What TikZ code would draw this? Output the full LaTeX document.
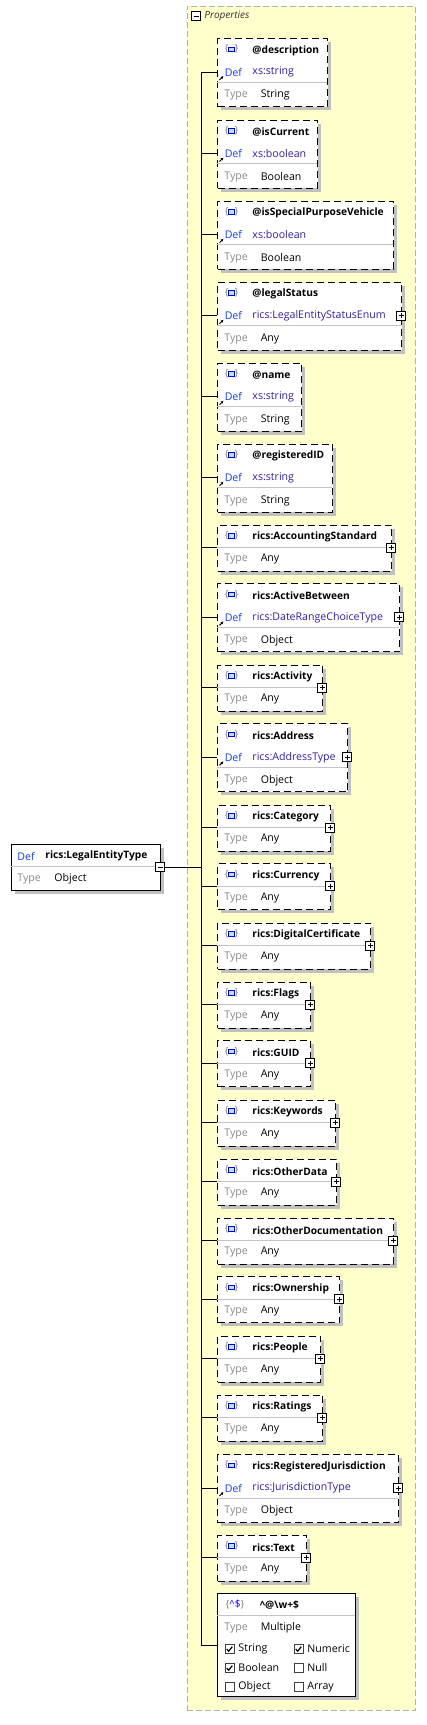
\documentclass[tikz,border=0pt]{standalone}
\usepackage{fontspec}
\setmainfont{Open Sans}
\usetikzlibrary{arrows.meta}

\definecolor{propfill}{RGB}{255,255,204}
\definecolor{propline}{RGB}{176,176,176}
\definecolor{boxshade}{RGB}{192,192,192}
\definecolor{deflabel}{RGB}{20,64,224}
\definecolor{deftype}{RGB}{48,32,160}
\definecolor{typelabel}{RGB}{138,138,138}
\definecolor{rulegray}{RGB}{196,196,196}

\begin{document}
\begin{tikzpicture}[x=1pt,y=-1pt,line width=0.9pt,
  prop box/.style={draw,line width=1.1pt,dash pattern=on 7pt off 4pt,fill=white,anchor=north west,inner sep=0pt},
  plain box/.style={draw,line width=1pt,fill=white,anchor=north west,inner sep=0pt},
  box shade/.style={fill=boxshade},
  name text/.style={anchor=west,inner sep=0pt,font=\bfseries\fontsize{10.2pt}{12pt}\selectfont},
  val text/.style={anchor=west,inner sep=0pt,font=\fontsize{10.6pt}{12pt}\selectfont},
  def label/.style={val text,text=deflabel},
  def value/.style={val text,text=deftype},
  type label/.style={val text,text=typelabel},
  minus box/.style={draw,fill=white,line width=0.8pt,minimum size=9pt,inner sep=0pt,
    path picture={\draw ([xshift=2pt]path picture bounding box.west) -- ([xshift=-2pt]path picture bounding box.east);}},
  plus box/.style={minus box,
    path picture={\draw ([xshift=2pt]path picture bounding box.west) -- ([xshift=-2pt]path picture bounding box.east);
                  \draw ([yshift=-2pt]path picture bounding box.north) -- ([yshift=2pt]path picture bounding box.south);}},
  tick box/.style={draw=black!75,fill=white,line width=0.8pt,minimum size=9pt,inner sep=0pt}]

  \useasboundingbox[fill=white] (0,0) rectangle (426,1725);

  \node[draw=propline,dash pattern=on 6pt off 3pt,fill=propfill,anchor=north west,inner sep=0pt,
    minimum width=228.5pt,minimum height=1704.5pt] (props) at (186.5,5.5) {};
  \node[minus box] (propsminus) at (196,16) {};
  \node[anchor=west,inner sep=0pt,text=black!80,font=\itshape\fontsize{10pt}{12pt}\selectfont] (propstitle) at (204,16) {Properties};

  \fill[box shade] (14.7,848.3) rectangle (163.7,894);
  \node[plain box,minimum width=149pt,minimum height=45.7pt] (root) at (10.7,844.3) {};
  \draw[rulegray] (10.7,866.7) -- (159.7,866.7);
  \node[def label] (rootdef) at (17,856) {Def};
  \node[name text] (rootname) at (45,856) {rics:LegalEntityType};
  \node[type label] (roottype) at (17,879) {Type};
  \node[val text] (rootval) at (54,879) {Object};
  \node[minus box] (rootminus) at (160,867) {};

  \foreach \idx/\yy/\bw/\rows/\lbl/\dt/\ty/\haskids in {
    1/38/110/3/@description/xs:string/String/0,
    2/119.5/100/3/@isCurrent/xs:boolean/Boolean/0,
    3/200.7/176/3/@isSpecialPurposeVehicle/xs:boolean/Boolean/0,
    4/281.7/184/3/@legalStatus/rics:LegalEntityStatusEnum/Any/1,
    5/362.7/84/3/@name/xs:string/String/0,
    6/443.7/115/3/@registeredID/xs:string/String/0,
    7/524.7/174/2/rics:AccountingStandard/-/Any/1,
    8/583.3/182/3/rics:ActiveBetween/rics:DateRangeChoiceType/Object/1,
    9/664.7/105/2/rics:Activity/-/Any/1,
    10/723.3/130/3/rics:Address/rics:AddressType/Object/1,
    11/804.7/113/2/rics:Category/-/Any/1,
    12/863.3/113/2/rics:Currency/-/Any/1,
    13/922.7/153/2/rics:DigitalCertificate/-/Any/1,
    14/981.7/93/2/rics:Flags/-/Any/1,
    15/1040.3/93/2/rics:GUID/-/Any/1,
    16/1099.7/118/2/rics:Keywords/-/Any/1,
    17/1158.7/119/2/rics:OtherData/-/Any/1,
    18/1217.7/176/2/rics:OtherDocumentation/-/Any/1,
    19/1276.3/122/2/rics:Ownership/-/Any/1,
    20/1335.7/103/2/rics:People/-/Any/1,
    21/1394.7/105/2/rics:Ratings/-/Any/1,
    22/1454/181/3/rics:RegisteredJurisdiction/rics:JurisdictionType/Object/1,
    23/1534.7/89/2/rics:Text/-/Any/1}
  {
    \begin{scope}[shift={(217.3,\yy)}]
      \ifnum\rows=3 \def\bh{68}\def\cy{34}\def\tyy{57}\def\sepy{44}
      \else \def\bh{46}\def\cy{23}\def\tyy{34.5}\def\sepy{23}\fi
      \fill[box shade] (4,4) rectangle (\bw+4,\bh+4);
      \node[prop box,minimum width=\bw pt,minimum height=\bh pt] (p\idx) at (0,0) {};
      \draw[rulegray] (0,\sepy) -- (\bw,\sepy);
      \node[text=gray,inner sep=0pt,font=\fontsize{10pt}{12pt}\selectfont] (icon\idx) at (14.4,11) {\{\hspace{6pt}\}};
      \filldraw[draw=blue!85!black,fill=cyan!30,line width=0.8pt] (11.4,9) rectangle (17.4,13.5);
      \node[name text] (n\idx) at (34.7,12.5) {\lbl};
      \ifnum\rows=3
        \node[def label] (d\idx) at (7,\cy) {Def};
        \node[def value] (v\idx) at (34.7,\cy) {\dt};
        \draw[-{Latex[length=2.8pt,width=3pt]},line width=1pt] (2.2,\cy+8) -- (6.2,\cy+4);
      \fi
      \node[type label] (t\idx) at (6.7,\tyy) {Type};
      \node[val text] (tv\idx) at (43,\tyy) {\ty};
      \ifnum\haskids=1 \node[plus box] (k\idx) at (\bw,\cy) {}; \fi
      \coordinate (s\idx) at (-16.3,\cy);
      \draw (s\idx) -- (s\idx -| p\idx.west);
    \end{scope}
  }

  \fill[box shade] (221.3,1597.3) rectangle (359.3,1700);
  \node[plain box,minimum width=138pt,minimum height=102.7pt] (p24) at (217.3,1593.3) {};
  \draw[rulegray] (217.3,1615) -- (355.3,1615);
  \node[inner sep=0pt,font=\fontsize{10pt}{12pt}\selectfont] (icon24) at (235,1604)
    {\textcolor{gray}{\{}\textcolor{blue}{\textasciicircum\$}\textcolor{gray}{\}}};
  \node[name text] (n24) at (259.3,1605) {\textasciicircum @\textbackslash w+\$};
  \node[type label] (t24) at (224,1628) {Type};
  \node[val text] (tv24) at (260.3,1628) {Multiple};
  \foreach \lbl/\cx/\cyy/\on in {String/229.5/1649/1,Numeric/298.5/1649/1,Boolean/229.5/1668/1,
                                 Null/298.5/1668/0,Object/229.5/1687/0,Array/298.5/1687/0}{
    \node[tick box] (cb\lbl) at (\cx,\cyy) {};
    \ifnum\on=1 \draw[line width=1.2pt] (\cx-2.8,\cyy) -- (\cx-0.8,\cyy+2.2) -- (\cx+2.8,\cyy-2.4); \fi
    \node[val text] (cl\lbl) at (\cx+8.5,\cyy) {\lbl};
  }
  \coordinate (s24) at (201,1645);
  \draw (s24) -- (s24 -| p24.west);

  \draw (s1) -- (s24);
  \draw (rootminus.east) -- (rootminus.east -| s1);
\end{tikzpicture}
\end{document}
